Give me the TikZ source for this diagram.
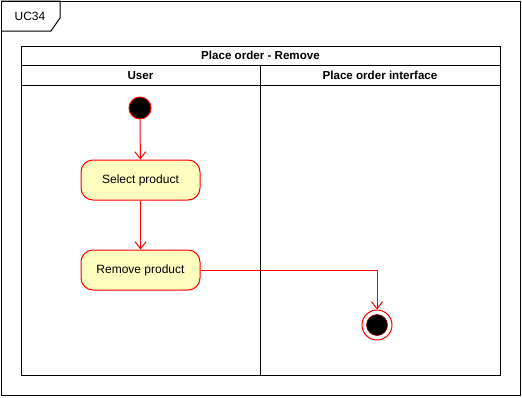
\documentclass[tikz,border=0pt]{standalone}
\usepackage{fontspec}
\setmainfont{Liberation Sans}
\usetikzlibrary{arrows.meta}

\begin{document}
\begin{tikzpicture}[x=1pt, y=-1pt, line width=1pt,
    txt/.style={font=\fontsize{12}{14}\selectfont, inner sep=0pt},
    head/.style={font=\fontsize{11.6}{14}\selectfont\bfseries, inner sep=0pt},
    action/.style={txt, shape=rectangle, draw=red, fill=yellow!25, rounded corners=12pt,
        minimum width=119pt, minimum height=40pt},
    flow/.style={draw=red, arrows={-Straight Barb[length=7pt, width=11pt]}}]
    \pgfmathsetmacro{\lane}{260}
    \useasboundingbox (0,0) rectangle (522,397);

    % Frame with its tab
    \draw (1,1) rectangle (520,395);
    \draw (1,1) -- (60,1) -- (60,18) -- (51,31) -- (1,31);
    \node[txt] (frame) at ({30}, {16}) {UC34};

    % Pool and lanes
    \draw (21,46) rectangle (500,375);
    \draw (21,65) -- (500,65);
    \draw (21,85) -- (500,85);
    \draw (\lane,65) -- (\lane,375);
    \node[head] (pool) at ({260.5}, {55.5}) {Place order - Remove};
    \node[head] (user) at ({140.5}, {75.5}) {User};
    \node[head] (iface) at ({380}, {75.5}) {Place order interface};

    % Activities
    \node[shape=circle, fill=black, draw=red, minimum size=22pt, inner sep=0pt] (start) at ({140}, {108}) {};
    \node[action] (select) at ({140.5}, {180}) {Select product};
    \node[action] (remove) at ({140.5}, {270}) {Remove product};
    \node[shape=circle, fill=white, draw=red, minimum size=30pt, inner sep=0pt] (stop) at ({377}, {325}) {};
    \node[shape=circle, fill=black, draw=red!60!black, line width=0.6pt, minimum size=21pt, inner sep=0pt] (stopdot) at (stop) {};

    % Transitions
    \draw[flow] (start) -- (select);
    \draw[flow] (select) -- (remove);
    \draw[flow] (remove.east) -| (stop.north);
\end{tikzpicture}
\end{document}
